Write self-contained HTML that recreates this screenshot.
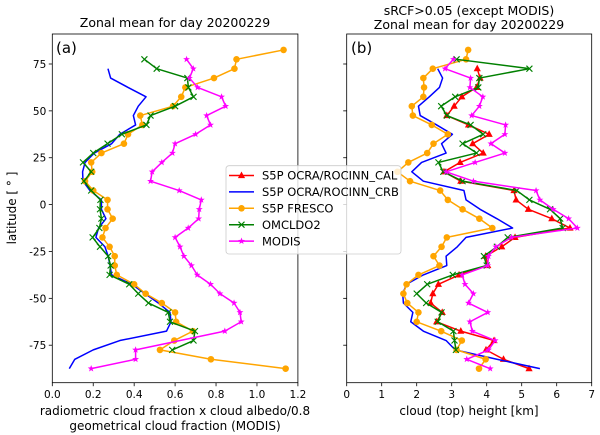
<!DOCTYPE html>
<html><head><meta charset="utf-8">
<style>
html,body{margin:0;padding:0;background:#fff;}
svg{display:block;font-family:"DejaVu Sans","Liberation Sans",sans-serif;}
</style></head>
<body>
<svg id="fig" width="600" height="435" viewBox="0 0 600 435" xmlns="http://www.w3.org/2000/svg">
<g id="back"></g>
<g id="front"></g>
</svg>
<script>
const lats = [82.5,77.5,72.5,67.5,62.5,57.5,52.5,47.5,42.5,37.5,32.5,27.5,22.5,17.5,12.5,7.5,2.5,-2.5,-7.5,-12.5,-17.5,-22.5,-27.5,-32.5,-37.5,-42.5,-47.5,-52.5,-57.5,-62.5,-67.5,-72.5,-77.5,-82.5,-87.5];
const yTicks = [-75,-50,-25,0,25,50,75];
const xTicksA = [0.0,0.2,0.4,0.6,0.8,1.0,1.2];
const xTickLabelsA = ["0.0","0.2","0.4","0.6","0.8","1.0","1.2"];
const xTicksB = [0,1,2,3,4,5,6,7];
const seriesNames = ["S5P OCRA/ROCINN_CAL","S5P OCRA/ROCINN_CRB","S5P FRESCO","OMCLDO2","MODIS"];
const leftFresco = [1.13,0.90,0.89,0.79,0.65,0.63,0.59,0.43,0.44,0.37,0.35,0.24,0.19,0.195,0.16,0.2,0.27,0.27,0.295,0.26,0.245,0.28,0.305,0.305,0.315,0.40,0.456,0.535,0.60,0.605,0.687,0.596,0.526,0.775,1.14];
const leftOmi = [null,0.45,0.51,0.66,0.665,0.69,0.60,0.48,0.46,0.34,0.27,0.20,0.15,0.19,0.155,0.19,0.235,0.233,0.24,0.23,0.197,0.233,0.273,0.285,0.28,0.376,0.42,0.47,0.567,0.575,0.697,0.69,0.586,null,null];
const leftCrb = [null,null,0.272,0.285,0.37,0.458,0.42,0.396,0.407,0.33,0.29,0.205,0.16,0.148,0.15,0.184,0.24,0.24,0.262,0.226,0.213,0.257,0.273,0.282,0.29,0.388,0.453,0.518,0.575,0.58,0.558,0.33,0.2,0.11,0.083];
const leftModis = [null,0.656,0.689,0.67,0.71,0.827,0.847,0.754,0.773,0.70,0.60,0.587,0.535,0.488,0.48,0.62,0.728,0.718,0.715,0.664,0.6,0.624,0.643,0.68,0.708,0.773,0.819,0.888,0.917,0.923,0.843,null,0.407,0.407,0.19];
const rightFresco = [3.47,3.41,2.46,2.19,2.21,2.19,1.86,1.89,2.43,2.89,2.48,2.3,1.76,1.45,1.81,2.67,2.89,3.31,3.79,4.16,2.86,2.71,2.48,2.65,2.05,1.71,1.62,1.73,2.05,2.0,2.7,3.29,3.14,3.97,3.78];
const rightCrb = [null,null,2.6,2.74,2.65,2.36,2.05,2.1,2.57,3.02,2.71,2.84,2.14,1.86,2.19,3.35,3.41,3.81,4.29,4.74,3.41,3.16,2.84,2.86,2.19,1.71,1.6,1.62,1.89,1.83,2.19,2.84,3.1,4.29,5.52];
const rightCal = [null,null,3.73,3.81,3.71,3.29,3.07,2.86,3.48,4.07,3.6,3.9,3.24,2.78,3.26,4.78,4.84,5.19,5.86,6.38,4.81,4.43,3.97,4.03,3.21,2.62,2.46,2.4,2.73,2.57,3.26,4.21,3.98,4.48,5.21];
const rightOmi = [null,3.14,5.22,3.79,3.76,3.1,2.7,2.86,3.54,3.9,3.31,3.71,2.62,2.76,3.31,4.86,5.22,5.81,6.1,6.17,4.6,4.29,3.92,4.0,3.03,2.3,2.0,2.27,2.71,2.6,3.05,3.08,3.12,null,null];
const rightModis = [null,3.05,2.81,3.54,3.52,3.89,3.79,3.57,4.54,4.52,4.12,4.52,3.67,2.84,3.62,5.41,5.52,5.9,6.34,6.59,4.71,4.26,4.05,4.03,3.3,3.38,3.62,3.48,4.03,3.52,3.59,4.24,4.05,3.43,4.1];

const NS="http://www.w3.org/2000/svg";
const back=document.getElementById('back'), front=document.getElementById('front');
function mk(tag, attrs, parent, text){
  const e=document.createElementNS(NS,tag);
  for(const k in attrs) e.setAttribute(k,attrs[k]);
  if(text!==undefined) e.textContent=text;
  parent.appendChild(e); return e;
}
const TOP=34, BOT=382.7, YMIN=-95, YMAX=91;
function yS(v){return BOT-(v-YMIN)/(YMAX-YMIN)*(BOT-TOP);}
const panA={x0:52.3,x1:297.9,min:0,max:1.2};
const panB={x0:346.7,x1:591.7,min:0,max:7};
function xS(p,v){return p.x0+(v-p.min)/(p.max-p.min)*(p.x1-p.x0);}
const colors={cal:"#ff0000",crb:"#0000ff",fresco:"#ffa500",omi:"#008000",modis:"#ff00ff"};

function marker(g,type,x,y,c){
  let m;
  if(type==="tri") m=mk('polygon',{points:`${x},${y-4} ${x-3.6},${y+2.6} ${x+3.6},${y+2.6}`,fill:c},g);
  else if(type==="circ") m=mk('circle',{cx:x,cy:y,r:3.3,fill:c},g);
  else if(type==="x") m=mk('path',{d:`M${x-3},${y-3}L${x+3},${y+3}M${x-3},${y+3}L${x+3},${y-3}`,stroke:c,'stroke-width':1.1,fill:'none'},g);
  else if(type==="star"){
    let pts=[];for(let i=0;i<10;i++){const r=i%2?1.5:3.6;const a=-Math.PI/2+i*Math.PI/5;pts.push((x+r*Math.cos(a)).toFixed(2)+','+(y+r*Math.sin(a)).toFixed(2));}
    m=mk('polygon',{points:pts.join(' '),fill:c},g);
  }
  if(m){}
}
function series(p,vals,color,mtype,name){
  const g=mk('g',{},front);
  
  
  const pts=[];
  vals.forEach((v,i)=>{if(v!==null&&v!==undefined)pts.push([xS(p,v),yS(lats[i])]);});
  mk('polyline',{points:pts.map(q=>q[0].toFixed(2)+','+q[1].toFixed(2)).join(' '),fill:'none',stroke:color,'stroke-width':1.5,'stroke-linejoin':'round'},g);
  if(mtype) pts.forEach(q=>marker(g,mtype,q[0],q[1],color));
}
function axes(p,xt,xl,name){
  const g=mk('g',{},back);
  
  
  mk('rect',{x:p.x0,y:TOP,width:p.x1-p.x0,height:BOT-TOP,fill:'none',stroke:'#000','stroke-width':0.8},g);
  xt.forEach((t,i)=>{
    const x=xS(p,t);
    mk('line',{x1:x,x2:x,y1:BOT,y2:BOT+3.5,stroke:'#000','stroke-width':0.8},g);
    const tl=mk('text',{x:x,y:BOT+15.5,'text-anchor':'middle','font-size':'10.5px',fill:'#000'},g,xl[i]);
    
    
  });
  yTicks.forEach(t=>{
    const y=yS(t);
    mk('line',{x1:p.x0-3.5,x2:p.x0,y1:y,y2:y,stroke:'#000','stroke-width':0.8},g);
  });
}
axes(panA,xTicksA,xTickLabelsA,'axes-a');
axes(panB,xTicksB,xTicksB.map(String),'axes-b');
yTicks.forEach(t=>{
  const tl=mk('text',{x:panA.x0-6,y:yS(t)+4,'text-anchor':'end','font-size':'10.5px',fill:'#000'},back,String(t));
  
  
});

series(panA,leftCrb,colors.crb,null,'series-a-crb');
series(panA,leftFresco,colors.fresco,'circ','series-a-fresco');
series(panA,leftOmi,colors.omi,'x','series-a-omcldo2');
series(panA,leftModis,colors.modis,'star','series-a-modis');

series(panB,rightCal,colors.cal,'tri','series-b-cal');
series(panB,rightCrb,colors.crb,null,'series-b-crb');
series(panB,rightFresco,colors.fresco,'circ','series-b-fresco');
series(panB,rightOmi,colors.omi,'x','series-b-omcldo2');
series(panB,rightModis,colors.modis,'star','series-b-modis');

// legend
const lg=mk('g',{},front);


mk('rect',{x:226,y:165.7,width:175,height:88.3,rx:3,fill:'#fff','fill-opacity':0.8,stroke:'#ccc','stroke-width':0.8},lg);
const legColors=[colors.cal,colors.crb,colors.fresco,colors.omi,colors.modis];
const legMarkers=['tri',null,'circ','x','star'];
seriesNames.forEach((n,i)=>{
  const y=175.5+i*16.4;
  const e=mk('g',{},lg);
  
  
  mk('line',{x1:229,x2:254,y1:y,y2:y,stroke:legColors[i],'stroke-width':1.5},e);
  if(legMarkers[i]) marker(e,legMarkers[i],241.5,y,legColors[i]);
  mk('text',{x:262,y:y+4.2,'font-size':'11.5px',fill:'#000'},e,n);
});

function txt(attrs,s,name){
  const t=mk('text',attrs,front,s);
  
  
  return t;
}
txt({x:175,y:27,'text-anchor':'middle','font-size':'12.5px'},'Zonal mean for day 20200229','title-a');
txt({x:469,y:15,'text-anchor':'middle','font-size':'12.5px'},'sRCF>0.05 (except MODIS)','title-b-line1');
txt({x:469,y:29,'text-anchor':'middle','font-size':'12.5px'},'Zonal mean for day 20200229','title-b-line2');
txt({x:56,y:53,'font-size':'15px'},'(a)','panel-label-a');
txt({x:351,y:53,'font-size':'15px'},'(b)','panel-label-b');
txt({x:175,y:415,'text-anchor':'middle','font-size':'12px'},'radiometric cloud fraction x cloud albedo/0.8','x-axis-title-a-line1');
txt({x:175,y:430,'text-anchor':'middle','font-size':'12px'},'geometrical cloud fraction (MODIS)','x-axis-title-a-line2');
txt({x:469,y:415,'text-anchor':'middle','font-size':'12px'},'cloud (top) height [km]','x-axis-title-b');
txt({x:0,y:0,'text-anchor':'middle','font-size':'12px',transform:'translate(16,208) rotate(-90)'},'latitude [ ° ]','y-axis-title');
</script>
</body></html>
